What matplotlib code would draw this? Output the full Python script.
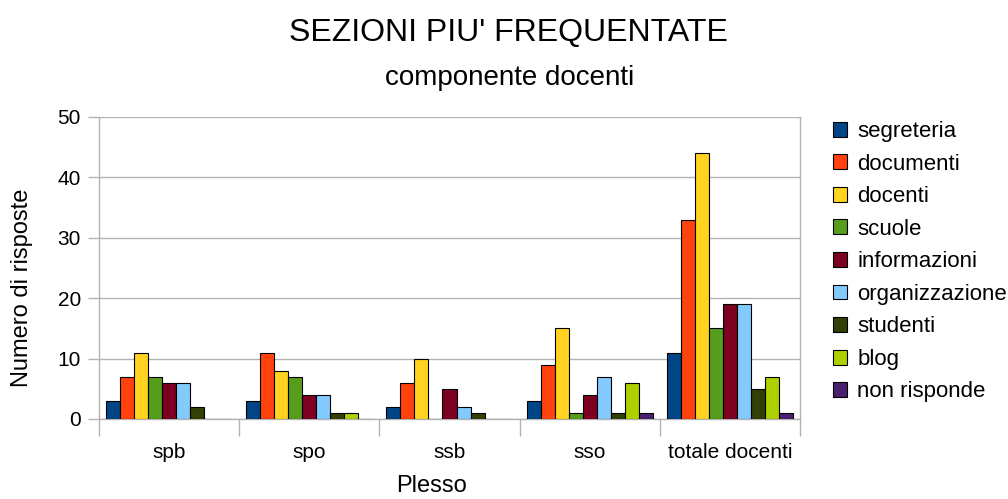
import matplotlib.pyplot as plt
import numpy as np

plt.rcParams['font.family'] = ['Liberation Sans', 'DejaVu Sans']

plessi = ['spb', 'spo', 'ssb', 'sso', 'totale docenti']
serie = ['segreteria', 'documenti', 'docenti', 'scuole', 'informazioni',
         'organizzazione', 'studenti', 'blog', 'non risponde']
colori = ['#004586', '#ff420e', '#ffd320', '#579d1c', '#7e0021',
          '#83caff', '#314004', '#aecf00', '#4b1f6f']

# one list per plesso, in the order of 'serie'
spb = [3, 7, 11, 7, 6, 6, 2, 0, 0]
spo = [3, 11, 8, 7, 4, 4, 1, 1, 0]
ssb = [2, 6, 10, 0, 5, 2, 1, 0, 0]
sso = [3, 9, 15, 1, 4, 7, 1, 6, 1]
totale = [11, 33, 44, 15, 19, 19, 5, 7, 1]

valori = np.array([spb, spo, ssb, sso, totale])

W, H = 1008, 499
fig = plt.figure(figsize=(W / 100, H / 100), dpi=100)
ax = fig.add_axes([99 / W, 80 / H, 701 / W, 302 / H])

grigio = '#b3b3b3'
x = np.arange(len(plessi))
w = 0.9 / len(serie)
for i, s in enumerate(serie):
    ax.bar(x - 0.45 + w * (i + 0.5), valori[:, i], width=w, color=colori[i],
           edgecolor='black', linewidth=0.8, label=s, zorder=3)

ax.set_xlim(-0.5, len(plessi) - 0.5)
ax.set_ylim(0, 50)
ax.set_yticks(range(0, 51, 10))
ax.yaxis.grid(True, color=grigio, linewidth=1, zorder=0)

ax.set_xticks(x)
ax.set_xticklabels(plessi)
ax.set_xticks(np.arange(-0.5, len(plessi)), minor=True)
ax.tick_params(axis='x', which='major', length=0, pad=17, labelsize=15)
ax.tick_params(axis='x', which='minor', length=12, color=grigio, width=1)
ax.tick_params(axis='y', length=8, color=grigio, width=1, labelsize=15, pad=5)

ax.spines['top'].set_visible(False)
for sp in ['left', 'right', 'bottom']:
    ax.spines[sp].set_color(grigio)
    ax.spines[sp].set_linewidth(1)

fig.text(22 / W, 1 - 288 / H, 'Numero di risposte', rotation=90,
         ha='center', va='center', fontsize=17)
fig.text(432 / W, 1 - 486 / H, 'Plesso', ha='center', va='center', fontsize=17)

fig.text(508 / W, 1 - 33 / H, "SEZIONI PIU' FREQUENTATE", ha='center',
         va='center', fontsize=23)
fig.text(510 / W, 1 - 78 / H, 'componente docenti', ha='center',
         va='center', fontsize=20)

ax.legend(loc='upper left', bbox_to_anchor=(833 / W, 1 - 121 / H),
          bbox_transform=fig.transFigure, frameon=False,
          fontsize=16, handlelength=0.65, handleheight=0.65, labelspacing=0.52,
          handletextpad=0.45, borderaxespad=0, borderpad=0)

fig.savefig('out.png', dpi=100)
